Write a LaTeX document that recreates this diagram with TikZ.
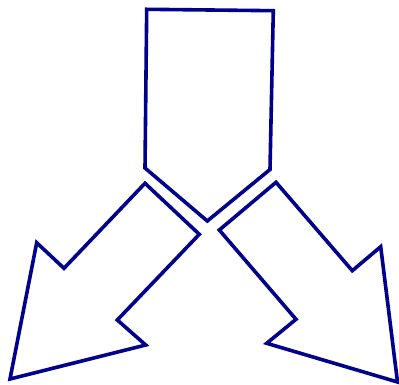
\documentclass[tikz,border=0pt]{standalone}
\definecolor{navy}{RGB}{0,0,140}
\begin{document}
\begin{tikzpicture}[x=1pt,y=-1pt,outlineshape/.style={draw=navy,line width=3.6pt,line join=miter,fill=white}]
\useasboundingbox (0,0) rectangle (399,385);
% top pentagon
\draw[outlineshape] (146.7,9.3) -- (273.3,10.7) -- (270,169.5) -- (207.3,221) -- (145,168) -- cycle;
% left arrow
\draw[outlineshape] (145,183.3) -- (199.3,234.3) -- (117.3,320) -- (145.7,345) -- (10,379) -- (36.7,242.7) -- (64,268.3) -- cycle;
% right arrow
\draw[outlineshape] (276,182.3) -- (219.3,230) -- (296,319.3) -- (266.7,343.3) -- (397.5,382) -- (380.7,246.7) -- (352.3,270.7) -- cycle;
\end{tikzpicture}
\end{document}
